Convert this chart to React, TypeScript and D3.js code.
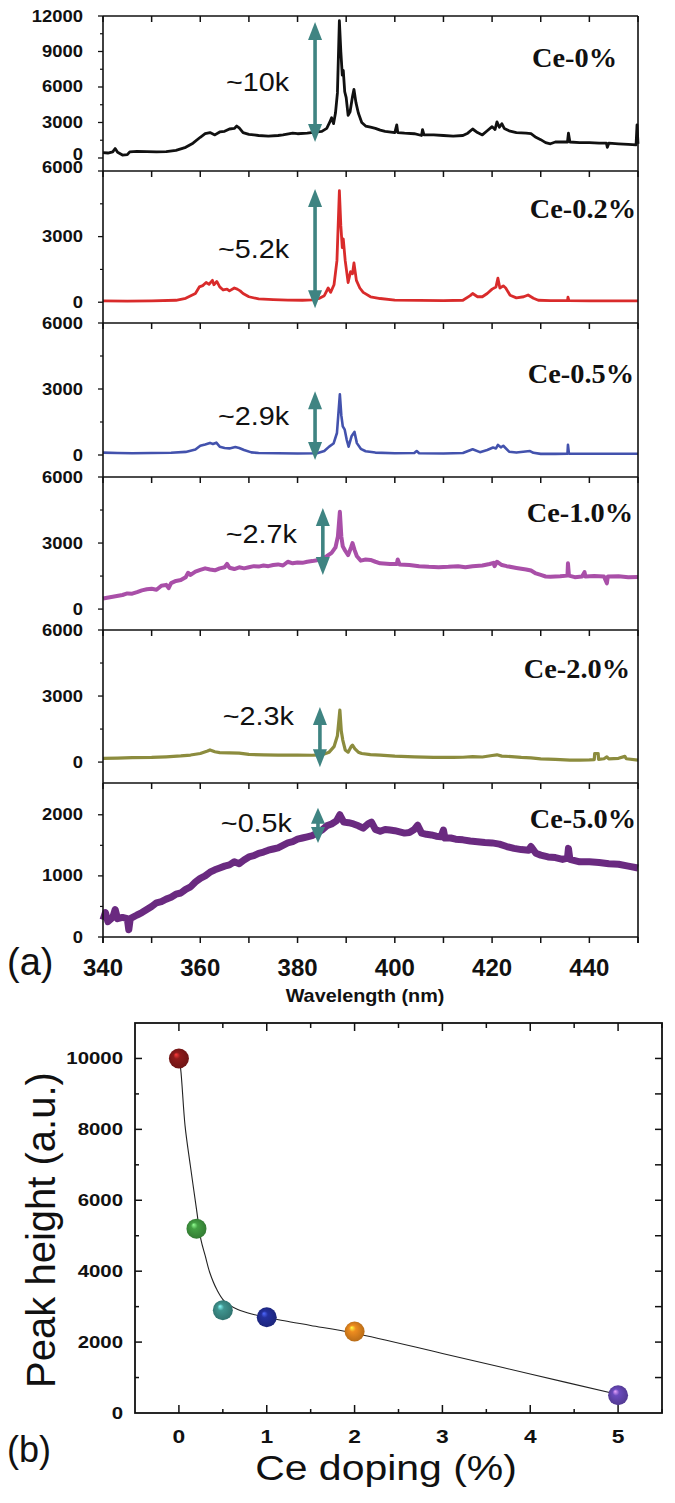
import React, { useEffect, useRef } from "react";
import * as d3 from "d3";

// ---------- panel (a): PL spectra, [wavelength nm, intensity] ----------
const ce0: [number, number][] = [
  [340, 450], [341, 420], [342, 520], [342.5, 800], [343, 480], [344, 250], [345, 280], [345.5, 520],
  [347, 560], [349, 540], [351, 520], [353, 540], [355, 650], [357, 900], [358.5, 1250], [360, 1750],
  [361, 2050], [362, 2150], [363, 1950], [364, 2200], [365, 2250], [366, 2450], [367, 2500], [367.5, 2700],
  [368, 2550], [368.8, 2150], [370, 2000], [371, 1950], [372, 1900], [374, 1850], [376, 1900], [377, 1950],
  [379, 2100], [380, 2050], [382, 2100], [384, 2200], [385, 2250], [386, 2500], [386.6, 3000], [387, 3400],
  [387.4, 2900], [387.8, 3800], [388.2, 5500], [388.6, 11600], [388.9, 9000], [389.2, 7000], [389.4, 7400],
  [389.7, 5600], [390, 5100], [390.4, 3600], [390.8, 3900], [391.3, 5200], [391.6, 5800], [392, 4700],
  [392.5, 3800], [393.2, 3000], [394, 2700], [395, 2600], [396, 2500], [397, 2350], [398, 2250], [400, 2150],
  [400.4, 2800], [400.6, 2150], [402, 2100], [404, 2050], [405.5, 1900], [405.7, 2400], [406, 1950],
  [408, 1950], [410, 1900], [412, 1850], [414, 1900], [415, 2100], [416, 2450], [417, 2150], [418, 1950],
  [419, 2300], [420, 2650], [420.6, 2400], [421, 3050], [421.5, 2600], [422, 2900], [422.5, 2500],
  [423.5, 2300], [425, 2150], [427, 2100], [428, 2050], [429, 1750], [430, 1550], [431, 1300], [432, 1200],
  [433, 1350], [434, 1350], [435.5, 1350], [435.7, 2100], [436, 1350], [438, 1300], [440, 1300], [442, 1250],
  [443.5, 1250], [443.7, 900], [444, 1250], [446, 1200], [448, 1150], [449.6, 1100], [449.8, 2800], [450, 1200],
];

const ce02: [number, number][] = [
  [340, 60], [345, 50], [350, 60], [355, 90], [357, 180], [359, 400], [359.8, 700], [360.5, 760],
  [361.2, 900], [361.8, 820], [362.5, 1000], [362.8, 800], [363.4, 950], [364, 700], [364.7, 560],
  [365.5, 600], [366, 520], [367, 650], [367.6, 600], [368.2, 520], [368.8, 400], [370, 250], [372, 150],
  [375, 120], [378, 100], [381, 90], [383, 110], [384.5, 180], [385.5, 300], [386.3, 650], [386.8, 450],
  [387.5, 800], [388.1, 1900], [388.6, 5100], [388.9, 3500], [389.2, 2500], [389.4, 2900], [389.8, 1900],
  [390.4, 900], [390.9, 1400], [391.3, 1300], [391.6, 1800], [392.1, 1000], [392.8, 650], [393.5, 450],
  [395, 250], [397, 170], [400, 100], [405, 80], [410, 70], [414, 90], [415.5, 300], [416, 400], [417, 250],
  [418, 250], [419, 400], [420, 600], [420.8, 700], [421.2, 1100], [421.6, 650], [422.3, 750], [422.8, 650],
  [423.7, 320], [425, 200], [426.5, 250], [427.4, 330], [428.5, 180], [429.5, 90], [432, 70], [435.5, 70],
  [435.6, 230], [435.8, 70], [440, 60], [445, 60], [450, 60],
];

const ce05: [number, number][] = [
  [340, 110], [343, 90], [346, 80], [350, 90], [354, 100], [357, 140], [359, 250], [360, 420], [361, 480],
  [362, 550], [362.6, 500], [363.3, 560], [364, 380], [365, 320], [366, 300], [367.2, 360], [368, 320],
  [369, 230], [370.5, 120], [372, 90], [376, 80], [380, 70], [384, 80], [385.5, 180], [386.5, 380],
  [387.4, 520], [388.1, 1000], [388.7, 2760], [389, 1800], [389.3, 1300], [389.7, 1150], [390.1, 700],
  [390.5, 380], [391.1, 850], [391.7, 1050], [392.2, 540], [393, 280], [394, 170], [396, 110], [400, 80],
  [404, 90], [404.5, 180], [405, 80], [410, 70], [414, 90], [416, 260], [417.5, 130], [419, 230],
  [420.2, 340], [420.8, 300], [421.2, 460], [421.8, 350], [422.3, 420], [423.5, 150], [425, 110],
  [427.8, 180], [428.5, 100], [430, 50], [433, 50], [435.5, 60], [435.6, 460], [435.8, 60], [440, 55],
  [445, 60], [450, 60],
];

const ce10: [number, number][] = [
  [340, 480], [342, 560], [344, 640], [345, 710], [346, 700], [347, 770], [348, 850], [349, 900], [350, 920],
  [351, 880], [352, 1060], [353, 1100], [353.5, 950], [354, 1180], [355, 1280], [356, 1320], [357, 1450],
  [357.5, 1650], [358, 1550], [359, 1700], [360, 1780], [361, 1850], [362, 1800], [363, 1760], [364, 1850],
  [365, 1900], [365.5, 2050], [366, 1880], [367, 1820], [368, 1900], [369, 1850], [370, 1900], [371, 1950],
  [372, 1930], [373, 1980], [374, 1950], [375, 2000], [376, 2030], [377, 1980], [378, 2150], [379, 2080],
  [380, 2120], [381, 2100], [382, 2150], [383, 2180], [384, 2220], [385, 2300], [386, 2400], [387, 2550],
  [387.8, 2800], [388.3, 3300], [388.7, 4420], [389, 3300], [389.3, 2850], [389.8, 2650], [390.4, 2450],
  [391, 2800], [391.3, 3000], [391.7, 2700], [392.2, 2400], [393, 2200], [394, 2250], [395, 2230],
  [396, 2150], [397, 2080], [399, 2050], [400.4, 2050], [400.6, 2250], [401, 2020], [403, 2000], [405, 1950],
  [407, 1920], [409, 1900], [411, 1920], [413, 1950], [414.5, 1900], [416, 1950], [418, 1980], [419.5, 2050],
  [420.3, 2100], [420.5, 1950], [421, 2150], [422, 2000], [423, 1950], [425, 1870], [427, 1800], [428, 1750],
  [429, 1620], [430, 1550], [431, 1480], [432, 1470], [434, 1490], [435.5, 1520], [435.6, 2080],
  [435.8, 1520], [437, 1450], [438.5, 1480], [439, 1680], [439.2, 1480], [441, 1500], [443, 1480],
  [443.6, 1170], [443.8, 1480], [446, 1490], [448, 1450], [450, 1460],
];

const ce20: [number, number][] = [
  [340, 170], [343, 180], [346, 200], [350, 210], [353, 240], [356, 280], [358, 320], [360, 390],
  [361.5, 500], [362, 550], [363, 470], [364, 430], [366, 420], [368, 410], [370, 350], [373, 330],
  [376, 320], [380, 320], [383, 310], [385, 330], [386.5, 450], [387.5, 700], [388.2, 1200], [388.7, 2360],
  [389, 1400], [389.3, 1000], [389.8, 550], [390.4, 450], [391, 700], [391.3, 770], [391.8, 600],
  [392.5, 450], [393.2, 390], [395, 340], [397, 320], [400, 270], [404, 240], [408, 210], [412, 210],
  [414, 220], [416, 250], [418, 230], [420, 300], [421, 330], [422, 270], [424, 250], [426, 210], [428, 190],
  [430, 150], [433, 120], [436, 90], [438, 90], [440, 100], [441, 110], [441.1, 390], [441.8, 390],
  [441.9, 120], [443, 150], [443.6, 240], [444, 150], [446, 170], [447.3, 260], [447.6, 150], [450, 90],
];

const ce50: [number, number][] = [
  [340, 280], [340.5, 400], [341, 250], [342, 320], [342.5, 450], [343, 300], [344, 320], [345, 300],
  [345.3, 120], [345.6, 300], [347, 360], [348, 400], [349, 450], [350, 500], [351, 560], [352, 580],
  [353, 620], [354, 650], [355, 700], [356, 720], [357, 780], [358, 820], [359, 900], [360, 960],
  [361, 1000], [362, 1060], [363, 1100], [364, 1130], [365, 1160], [366, 1180], [367, 1230], [368, 1200],
  [369, 1260], [370, 1310], [371, 1330], [372, 1370], [373, 1390], [374, 1420], [375, 1440], [376, 1460],
  [377, 1500], [378, 1540], [379, 1560], [380, 1600], [381, 1620], [382, 1640], [383, 1660], [384, 1700],
  [385, 1750], [386, 1820], [387, 1850], [388, 1900], [388.7, 2000], [389.5, 1880], [390.5, 1870],
  [391.5, 1850], [392.5, 1820], [393.5, 1780], [394.5, 1850], [395.2, 1880], [396, 1760], [397, 1730],
  [398, 1760], [399, 1750], [400, 1740], [401, 1720], [402, 1700], [403, 1710], [404, 1760], [404.7, 1830],
  [405.5, 1700], [406.5, 1680], [407.5, 1670], [408.5, 1650], [409.5, 1640], [410, 1750], [410.3, 1620],
  [411.5, 1620], [412.5, 1600], [414, 1590], [415.5, 1570], [417, 1560], [418.5, 1545], [420, 1540],
  [421.5, 1520], [423, 1480], [424.5, 1450], [426, 1430], [427.5, 1420], [428, 1480], [429, 1370],
  [430, 1340], [431.5, 1310], [433, 1300], [434.5, 1270], [435.5, 1290], [435.7, 1450], [436, 1270],
  [437, 1250], [438, 1230], [440, 1230], [442, 1220], [444, 1200], [446, 1190], [448, 1160], [450, 1130],
];

const spectra = [ce0, ce02, ce05, ce10, ce20, ce50];
const sampleNames = ["Ce-0%", "Ce-0.2%", "Ce-0.5%", "Ce-1.0%", "Ce-2.0%", "Ce-5.0%"];
const lineColors = ["#111111", "#d92b2b", "#4352ad", "#a94fa8", "#8c8c3e", "#6a2a80"];
const lineWidths = [2.8, 2.8, 2.6, 4, 3.2, 7];
const yDomains: [number, number][] = [[-1100, 12000], [-950, 6000], [-1000, 6000], [-950, 6000], [-950, 6000], [0, 2520]];
const yMajor = [[0, 3000, 6000, 9000, 12000], [0, 3000, 6000], [0, 3000, 6000], [0, 3000, 6000], [0, 3000, 6000], [0, 1000, 2000]];
const yMinor = [[1500, 4500, 7500, 10500], [1500, 4500], [1500, 4500], [1500, 4500], [1500, 4500], [500, 1500]];
const xMajorA = [340, 360, 380, 400, 420, 440];

// peak-height annotations
const peakLabels = ["~10k", "~5.2k", "~2.9k", "~2.7k", "~2.3k", "~0.5k"];
const arrowWl = [383.6, 383.6, 383.6, 385.2, 384.6, 384.2];
const arrowLow = [1350, -270, -230, 1545, -230, 1540];
const arrowHigh = [11500, 5180, 2900, 4590, 2500, 2115];
const peakLabelLevel = [5660, 2000, 1380, 3000, 1680, 1720];

// ---------- panel (b): peak height vs Ce doping ----------
const doping = [0, 0.2, 0.5, 1, 2, 5];
const peakHeight = [10000, 5200, 2900, 2700, 2300, 500];
const dotColors = ["#8e1b1b", "#43a043", "#3f958f", "#24309e", "#ee8c1f", "#6b4bbd"];
const fitX = [0, 0.02, 0.07, 0.13, 0.2, 0.25, 0.3, 0.35, 0.43, 0.52, 0.67, 0.85, 1.0, 1.2, 1.5, 2, 3, 4, 5];
const fitY = [10000, 9700, 8100, 6980, 5750, 4900, 4430, 3970, 3490, 3150, 2920, 2780, 2700, 2600, 2470, 2250, 1680, 1100, 520];
const yTicksB = [0, 2000, 4000, 6000, 8000, 10000];
const xTicksB = [0, 1, 2, 3, 4, 5];

const SANS = "'Liberation Sans', Arial, sans-serif";
const SERIF = "'Liberation Serif', 'Times New Roman', serif";

function put(g: any, x: number, y: number, s: string, size: number, o: any = {}) {
  const tr = o.rotate ? `translate(${x},${y}) rotate(${o.rotate})` : `translate(${x},${y}) scale(${o.sx ?? 1},1)`;
  return g.append("text")
    .attr("transform", tr)
    .attr("text-anchor", o.anchor ?? "start")
    .attr("font-family", o.family ?? SANS)
    .attr("font-weight", o.weight ?? "normal")
    .attr("font-size", size)
    .attr("fill", "#111")
    .text(s);
}

export default function App() {
  const ref = useRef<SVGSVGElement>(null);

  useEffect(() => {
    const svg = d3.select(ref.current);
    svg.selectAll("*").remove();

    // ----- panel (a) -----
    const left = 103, right = 638;
    const bounds = [16, 171, 323, 477, 630, 783, 937];
    const x = d3.scaleLinear().domain([340, 450]).range([left, right]);
    const teal = "#3f8482";
    const ga = svg.append("g");

    spectra.forEach((data, i) => {
      const y = d3.scaleLinear().domain(yDomains[i]).range([bounds[i + 1], bounds[i]]);
      const line = d3.line<[number, number]>().x(d => x(d[0])).y(d => y(d[1]));
      ga.append("path").datum(data).attr("d", line)
        .attr("fill", "none").attr("stroke", lineColors[i])
        .attr("stroke-width", lineWidths[i]).attr("stroke-linejoin", "round");

      // y ticks, outward
      yMajor[i].forEach(v => {
        ga.append("line").attr("x1", left - 5).attr("x2", left).attr("y1", y(v)).attr("y2", y(v))
          .attr("stroke", "#111").attr("stroke-width", 1.3);
        // the 0 of the top panel and the 6000 below it are nudged apart, as in the original
        const squeeze = (i === 0 && v === 0) || (i === 1 && v === 6000);
        put(ga, 83, y(v) + (squeeze ? 2 : 5.5), String(v), 16, { anchor: "end", weight: "bold", sx: 1.15 });
      });
      yMinor[i].forEach(v => {
        ga.append("line").attr("x1", left - 3).attr("x2", left).attr("y1", y(v)).attr("y2", y(v))
          .attr("stroke", "#111").attr("stroke-width", 1.2);
      });

      // sample tag
      const tagX = [617, 636, 634, 633, 630, 636];
      const tagDy = [51, 47, 60, 45, 48, 45];
      put(ga, tagX[i], bounds[i] + tagDy[i], sampleNames[i], 27, { anchor: "end", weight: "bold", family: SERIF, sx: 1.05 });

      // double arrow
      const ax = x(arrowWl[i]);
      const yt = y(arrowHigh[i]), yb = y(arrowLow[i]);
      const hl = Math.min(18, (yb - yt) / 2.2), hw = 7;
      ga.append("line").attr("x1", ax).attr("x2", ax).attr("y1", yt + hl - 1).attr("y2", yb - hl + 1)
        .attr("stroke", teal).attr("stroke-width", 3.6);
      ga.append("path").attr("d", `M${ax},${yt}L${ax - hw},${yt + hl}L${ax + hw},${yt + hl}Z`).attr("fill", teal);
      ga.append("path").attr("d", `M${ax},${yb}L${ax - hw},${yb - hl}L${ax + hw},${yb - hl}Z`).attr("fill", teal);
      put(ga, ax - 26, y(peakLabelLevel[i]), peakLabels[i], 25, { anchor: "end", sx: 1.15 });
    });

    // frame and x ticks
    bounds.forEach(b => {
      ga.append("line").attr("x1", left).attr("x2", right).attr("y1", b).attr("y2", b)
        .attr("stroke", "#111").attr("stroke-width", 1.6);
      d3.range(340, 451, 10).forEach(t => {
        ga.append("line").attr("x1", x(t)).attr("x2", x(t)).attr("y1", b).attr("y2", b + 6)
          .attr("stroke", "#111").attr("stroke-width", 1.5);
      });
    });
    ga.append("line").attr("x1", left).attr("x2", left).attr("y1", bounds[0]).attr("y2", 943)
      .attr("stroke", "#111").attr("stroke-width", 1.6);
    ga.append("line").attr("x1", right).attr("x2", right).attr("y1", bounds[0]).attr("y2", 943)
      .attr("stroke", "#111").attr("stroke-width", 1.6);
    xMajorA.forEach(t => put(ga, x(t), 976, String(t), 24, { anchor: "middle", weight: "bold" }));
    put(ga, 365, 1002, "Wavelength (nm)", 18, { anchor: "middle", weight: "bold", sx: 1.1 });
    put(ga, 7, 975, "(a)", 38);

    // ----- panel (b) -----
    const bl = 135, br = 662, bt = 1023, bb = 1413;
    const xb = d3.scaleLinear().domain([-0.5, 5.5]).range([bl, br]);
    const yb = d3.scaleLinear().domain([0, 11000]).range([bb, bt]);
    const gb = svg.append("g");
    const defs = svg.append("defs");
    dotColors.forEach((c, i) => {
      const grad = defs.append("radialGradient").attr("id", `ball${i}`)
        .attr("cx", "50%").attr("cy", "50%").attr("r", "55%").attr("fx", "35%").attr("fy", "30%");
      grad.append("stop").attr("offset", "0%").attr("stop-color", d3.color(c)!.brighter(2.2).formatHex());
      grad.append("stop").attr("offset", "30%").attr("stop-color", c);
      grad.append("stop").attr("offset", "100%").attr("stop-color", d3.color(c)!.darker(0.8).formatHex());
    });

    gb.append("rect").attr("x", bl).attr("y", bt).attr("width", br - bl).attr("height", bb - bt)
      .attr("fill", "none").attr("stroke", "#111").attr("stroke-width", 1.8);

    d3.range(0, 5.51, 0.5).forEach(t => {
      const major = Number.isInteger(t);
      gb.append("line").attr("x1", xb(t)).attr("x2", xb(t)).attr("y1", bb).attr("y2", bb - (major ? 8 : 4))
        .attr("stroke", "#111").attr("stroke-width", 1.5);
      gb.append("line").attr("x1", xb(t)).attr("x2", xb(t)).attr("y1", bt).attr("y2", bt + (major ? 8 : 5))
        .attr("stroke", "#111").attr("stroke-width", 1.5);
    });
    d3.range(1000, 10001, 1000).forEach(v => {
      const major = v % 2000 === 0;
      gb.append("line").attr("x1", bl).attr("x2", bl + (major ? 7 : 4)).attr("y1", yb(v)).attr("y2", yb(v))
        .attr("stroke", "#111").attr("stroke-width", 1.5);
      gb.append("line").attr("x1", br).attr("x2", br - 7).attr("y1", yb(v)).attr("y2", yb(v))
        .attr("stroke", "#111").attr("stroke-width", 1.5);
    });
    yTicksB.forEach(v => put(gb, 123, yb(v) + 6, String(v), 17, { anchor: "end", weight: "bold", sx: 1.2 }));
    xTicksB.forEach(t => put(gb, xb(t), 1443, String(t), 19, { anchor: "middle", weight: "bold", sx: 1.2 }));

    const fit = d3.line<number>().x((_, i) => xb(fitX[i])).y(d => yb(d)).curve(d3.curveCatmullRom);
    gb.append("path").datum(fitY).attr("d", fit).attr("fill", "none")
      .attr("stroke", "#222").attr("stroke-width", 1.1);

    doping.forEach((d, i) => {
      gb.append("circle").attr("cx", xb(d)).attr("cy", yb(peakHeight[i])).attr("r", 10)
        .attr("fill", `url(#ball${i})`);
    });

    put(gb, 386, 1480, "Ce doping (%)", 35, { anchor: "middle", sx: 1.17 });
    put(gb, 55, 1230, "Peak height (a.u.)", 40, { anchor: "middle", rotate: -90 });
    put(gb, 7, 1462, "(b)", 36);
  }, []);

  return (
    <svg ref={ref} width={675} height={1503}
      style={{ position: "absolute", left: 0, top: 0, display: "block", background: "#fff" }} />
  );
}
